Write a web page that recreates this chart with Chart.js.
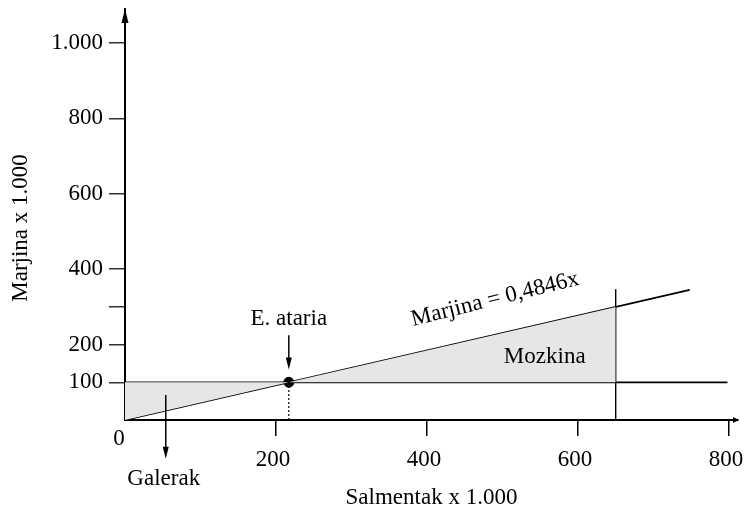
<!DOCTYPE html>
<html>
<head>
<meta charset="utf-8">
<script src="https://cdn.jsdelivr.net/npm/chart.js@4/dist/chart.umd.min.js"></script>
<style>
  html, body { margin: 0; padding: 0; background: #fff; }
  #wrap { width: 744px; height: 512px; }
</style>
</head>
<body>
<div id="wrap"><canvas id="chart"></canvas></div>
<script>
// Datuak (irudiatik irakurrita)
const yTicks = [100, 200, 300, 400, 600, 800, 1000];
const xTicks = [200, 400, 600, 800];
const marginLine = [{x: 0, y: 0}, {x: 748, y: 345}];      // Marjina = 0,4846x
const fixedCost = [{x: 0, y: 100}, {x: 798, y: 100}];
const lossArea = [{x: 0, y: 0}, {x: 217, y: 100}];        // Galerak
const profitArea = [{x: 217, y: 100}, {x: 650, y: 300}];  // Mozkina
const safetyLine = [{x: 650, y: 0}, {x: 650, y: 347}];
const breakEven = [{x: 217, y: 100}];
const breakEvenDrop = [{x: 217, y: 0}, {x: 217, y: 100}];
const beArrow = [225, 134];      // E. ataria gezia (y balioak)
const lossArrowX = 54;
const lossArrow = [66, -103];    // Galerak gezia (y balioak)

const serif = '"Liberation Serif", "DejaVu Serif", serif';
const fontSize = 23;

function fmt(v) {
  if (v >= 1000) return Math.floor(v / 1000) + '.' + String(v % 1000).padStart(3, '0');
  return String(v);
}

function arrowHead(ctx, x, y, dir, len, half) {
  // dir: 'up', 'down', 'right'
  ctx.beginPath();
  if (dir === 'down') {
    ctx.moveTo(x, y); ctx.lineTo(x - half, y - len); ctx.lineTo(x + half, y - len);
  } else if (dir === 'up') {
    ctx.moveTo(x, y); ctx.lineTo(x - half, y + len); ctx.lineTo(x + half, y + len);
  } else {
    ctx.moveTo(x, y); ctx.lineTo(x - len, y - half); ctx.lineTo(x - len, y + half);
  }
  ctx.closePath();
  ctx.fill();
}

// Geziak eta testuak
const annotations = {
  id: 'annotations',
  afterDraw(chart) {
    const ctx = chart.ctx;
    const xs = chart.scales.x, ys = chart.scales.y;
    const area = chart.chartArea;
    ctx.save();
    ctx.fillStyle = '#000';
    ctx.strokeStyle = '#000';

    // ardatzen geziak
    arrowHead(ctx, xs.getPixelForValue(0), area.top, 'up', 14, 3.5);
    arrowHead(ctx, area.right + 1, ys.getPixelForValue(0), 'right', 6, 3);

    // E. ataria gezia
    const bx = xs.getPixelForValue(breakEven[0].x);
    ctx.lineWidth = 1.5;
    ctx.beginPath();
    ctx.moveTo(bx, ys.getPixelForValue(beArrow[0]));
    ctx.lineTo(bx, ys.getPixelForValue(beArrow[1]) - 8);
    ctx.stroke();
    arrowHead(ctx, bx, ys.getPixelForValue(beArrow[1]), 'down', 12, 3);

    // Galerak gezia
    const gx = xs.getPixelForValue(lossArrowX);
    ctx.beginPath();
    ctx.moveTo(gx, ys.getPixelForValue(lossArrow[0]));
    ctx.lineTo(gx, ys.getPixelForValue(lossArrow[1]) - 8);
    ctx.stroke();
    arrowHead(ctx, gx, ys.getPixelForValue(lossArrow[1]), 'down', 12, 3);

    ctx.font = fontSize + 'px ' + serif;
    ctx.textAlign = 'center';
    ctx.textBaseline = 'middle';
    ctx.fillText('E. ataria', bx, ys.getPixelForValue(beArrow[0]) - 16);
    ctx.fillText('Galerak', gx - 2, 479);
    ctx.fillText('Mozkina', xs.getPixelForValue(556), ys.getPixelForValue(168));
    ctx.fillText('0', xs.getPixelForValue(0) - 6, 439);

    ctx.save();
    ctx.translate(xs.getPixelForValue(490), ys.getPixelForValue(320));
    ctx.rotate(-14 * Math.PI / 180);
    ctx.fillText('Marjina = 0,4846x', 0, 0);
    ctx.restore();

    // Y ardatzaren izenburua
    ctx.save();
    ctx.translate(21, 228);
    ctx.rotate(-Math.PI / 2);
    ctx.fillText('Marjina x 1.000', 0, 0);
    ctx.restore();

    ctx.restore();
  }
};

const lineStyle = {
  showLine: true, borderColor: '#000', borderWidth: 1.7,
  pointRadius: 0, fill: false, tension: 0
};

new Chart(document.getElementById('chart'), {
  type: 'scatter',
  data: {
    datasets: [
      { data: lossArea, showLine: true, borderWidth: 0, borderColor: 'rgba(0,0,0,0)',
        backgroundColor: '#e6e6e6', pointRadius: 0, fill: {value: 100} },
      { data: profitArea, showLine: true, borderWidth: 0, borderColor: 'rgba(0,0,0,0)',
        backgroundColor: '#e6e6e6', pointRadius: 0, fill: {value: 100} },
      Object.assign({ data: fixedCost }, lineStyle),
      Object.assign({ data: marginLine }, lineStyle),
      Object.assign({ data: safetyLine }, lineStyle, { borderWidth: 1.4 }),
      Object.assign({ data: breakEvenDrop }, lineStyle, { borderDash: [2, 2], borderWidth: 1.2 }),
      { data: breakEven, pointRadius: 5, pointBackgroundColor: '#000', pointBorderColor: '#000' }
    ]
  },
  options: {
    responsive: true,
    maintainAspectRatio: false,
    animation: false,
    devicePixelRatio: 1,
    layout: { padding: { top: 9, right: 1, left: 0, bottom: 0 } },
    plugins: { legend: { display: false }, tooltip: { enabled: false } },
    scales: {
      x: {
        type: 'linear', min: 0, max: 812,
        afterFit(s) { s.height = 92; s.paddingLeft = 0; s.paddingRight = 0; },
        afterBuildTicks(s) { s.ticks = xTicks.map(v => ({ value: v })); },
        ticks: { font: { family: serif, size: fontSize }, color: '#000', padding: 10,
                 labelOffset: -3, maxRotation: 0, callback: v => fmt(v) },
        grid: { drawOnChartArea: false, drawTicks: true, tickLength: 16, color: '#000', lineWidth: 1.5 },
        border: { display: true, color: '#000', width: 2 },
        title: { display: true, text: 'Salmentak x 1.000', color: '#000',
                 font: { family: serif, size: fontSize }, padding: { top: 0, bottom: 0 } }
      },
      y: {
        type: 'linear', min: 0, max: 1090,
        afterFit(s) { s.width = 125; s.paddingTop = 0; s.paddingBottom = 0; },
        afterBuildTicks(s) { s.ticks = yTicks.map(v => ({ value: v })); },
        ticks: { font: { family: serif, size: fontSize }, color: '#000', padding: 6,
                 callback: v => (v === 300 ? '' : fmt(v)) },
        grid: { drawOnChartArea: false, drawTicks: true, tickLength: 16, color: '#333', lineWidth: 1.5 },
        border: { display: true, color: '#000', width: 2 },
        title: { display: false }
      }
    }
  },
  plugins: [annotations]
});
</script>
</body>
</html>
